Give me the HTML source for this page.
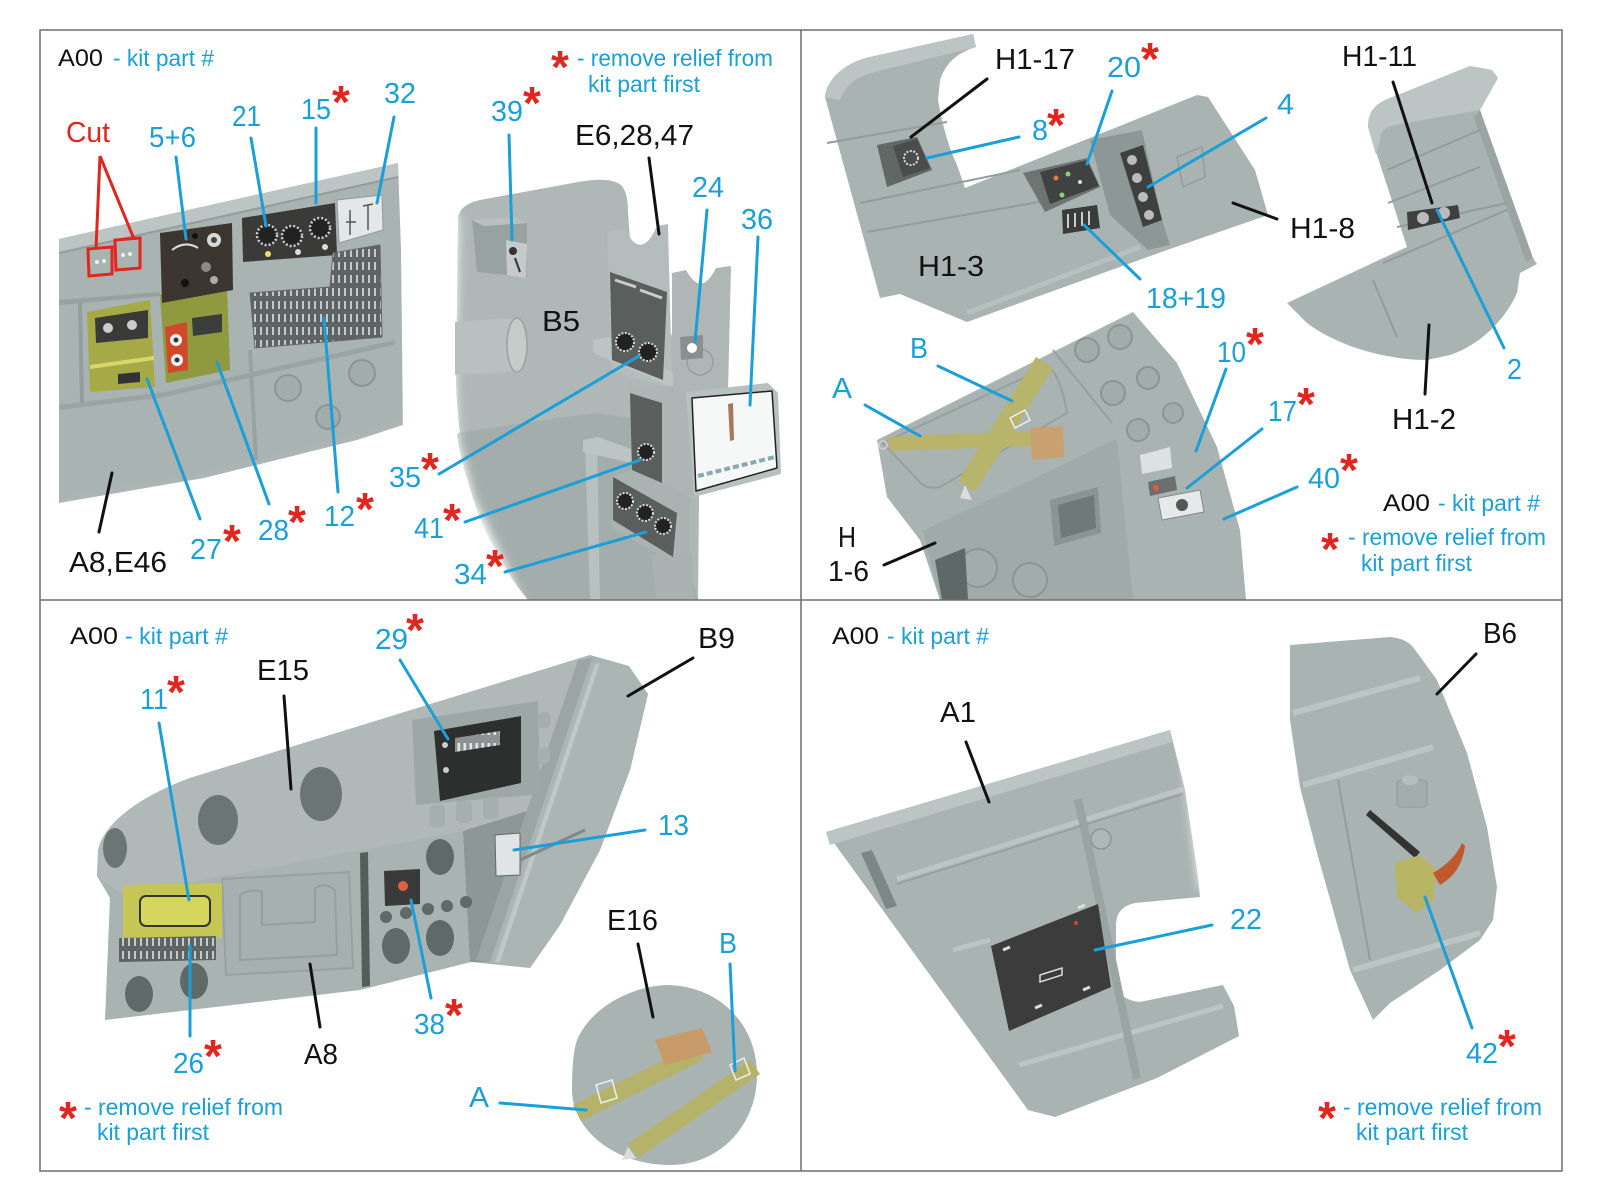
<!DOCTYPE html>
<html><head><meta charset="utf-8"><style>
html,body{margin:0;padding:0;background:#fff}
svg{display:block}
text{font-family:"Liberation Sans",Arial,sans-serif}
.t{font-size:29px}
.s{font-size:23px}
.h{font-size:24px}
.a{font-size:46px;font-weight:bold;fill:#e0261e}
.bl{fill:#1a9fd8}.bk{fill:#111}.rd{fill:#e0261e}
.lb{stroke:#1a9fd8;stroke-width:3;stroke-linecap:round;fill:none}
.lk{stroke:#111;stroke-width:3;stroke-linecap:round;fill:none}
.lr{stroke:#e0261e;stroke-width:3;fill:none}
.g{fill:#a9b3b1}
.gr{stroke:#929c9a;stroke-width:2;fill:none}
.hole{fill:#a2acaa;stroke:#8b9593;stroke-width:2}
.dh{fill:#5f6967}
</style></head><body>
<svg width="1600" height="1200" viewBox="0 0 1600 1200" xmlns="http://www.w3.org/2000/svg">
<defs>
<filter id="bl8" x="-30%" y="-30%" width="160%" height="160%"><feGaussianBlur stdDeviation="8"/></filter>
<filter id="bl5" x="-30%" y="-30%" width="160%" height="160%"><feGaussianBlur stdDeviation="5"/></filter>
<pattern id="sw" width="6" height="13" patternUnits="userSpaceOnUse"><rect width="6" height="13" fill="#5e6363"/><rect x="2" y="2" width="2" height="8" fill="#c4c9c9"/></pattern>
<pattern id="sw2" width="6" height="20" patternUnits="userSpaceOnUse"><rect width="6" height="20" fill="#8d9191"/><rect x="1.5" y="3" width="2.6" height="12" fill="#e2e5e5"/></pattern>
</defs>
<rect width="1600" height="1200" fill="#fff"/>

<!-- ============ PANEL 1 ============ -->
<path class="g" d="M59,239 L398,163 L401,250 L403,425 L357,440 L204,478 L59,503 Z"/>
<path d="M59,239 L398,163 L398,176 L59,252 Z" fill="#bcc5c4"/>
<line x1="59" y1="253" x2="398" y2="177" stroke="#939d9b" stroke-width="2"/>
<path d="M59,300 L160,292 L160,296 L59,305 Z" fill="#97a19f"/>
<path d="M78,303 L82,303 L84,403 L80,403 Z" fill="#939d9b"/>
<path d="M59,405 L165,392 L253,372 L395,340 L395,345 L253,377 L165,397 L59,410 Z" fill="#9aa4a2"/>
<path d="M248,350 L252,350 L258,460 L254,460 Z" fill="#98a2a0"/>
<circle class="hole" cx="288" cy="388" r="13"/>
<circle class="hole" cx="362" cy="373" r="13"/>
<circle class="hole" cx="328" cy="417" r="12"/>
<path d="M88,249 L112,247 L112,274 L89,276 Z" fill="#b9c1c0" class="lr"/>
<path d="M115,240 L140,238 L140,268 L116,270 Z" fill="#b9c1c0" class="lr"/>
<circle cx="97" cy="262" r="2" fill="#eee"/><circle cx="104" cy="261" r="2" fill="#eee"/>
<circle cx="123" cy="255" r="2" fill="#eee"/><circle cx="130" cy="254" r="2" fill="#eee"/>
<path d="M160,295 L227,288 L230,370 L166,383 Z" fill="#8e9a3d"/>
<path d="M165,327 L187,322 L188,370 L168,373 Z" fill="#d2482a"/>
<circle cx="176" cy="340" r="6" fill="#f2f2f2"/><circle cx="176" cy="340" r="2.5" fill="#333"/>
<circle cx="177" cy="360" r="6" fill="#f2f2f2"/><circle cx="177" cy="360" r="2.5" fill="#333"/>
<path d="M192,318 L222,314 L222,332 L193,336 Z" fill="#3b3d3a"/>
<path d="M87,312 L150,300 L155,387 L90,392 Z" fill="#a5aa46"/>
<path d="M95,318 L148,310 L148,338 L96,343 Z" fill="#3a3a38"/>
<circle cx="108" cy="328" r="5" fill="#ccc"/><circle cx="132" cy="325" r="5" fill="#ccc"/>
<path d="M90,365 L154,356 L154,360 L90,369 Z" fill="#d9d76a"/>
<path d="M118,374 L140,372 L140,382 L118,384 Z" fill="#333"/>
<path d="M160,233 L232,223 L233,290 L162,303 Z" fill="#3b3630"/>
<path d="M172,250 Q185,240 198,248" stroke="#ddd" stroke-width="2" fill="none"/>
<circle cx="214" cy="240" r="7" fill="#d8d8d8"/><circle cx="214" cy="240" r="3" fill="#444"/>
<circle cx="206" cy="267" r="5" fill="#8a8a8a"/><circle cx="185" cy="283" r="4" fill="#111"/>
<circle cx="214" cy="280" r="4" fill="#aaa"/><circle cx="195" cy="236" r="3" fill="#111"/>
<path d="M242,218 L335,203 L337,255 L243,262 Z" fill="#3a3a38"/>
<circle cx="267" cy="235" r="10" fill="#222" stroke="#cfcfcf" stroke-width="2.5" stroke-dasharray="2 2"/>
<circle cx="292" cy="236" r="10" fill="#222" stroke="#cfcfcf" stroke-width="2.5" stroke-dasharray="2 2"/>
<circle cx="320" cy="228" r="10" fill="#222" stroke="#cfcfcf" stroke-width="2.5" stroke-dasharray="2 2"/>
<circle cx="268" cy="254" r="3" fill="#e8e070"/><circle cx="298" cy="252" r="3" fill="#ddd"/><circle cx="325" cy="247" r="3" fill="#ddd"/>
<path d="M337,200 L382,195 L383,230 L339,243 Z" fill="#e3e7e8" stroke="#999" stroke-width="1"/>
<path d="M350,210 L350,235 M346,222 L356,222 M368,205 L368,230 M363,206 L373,204" stroke="#555" stroke-width="1.5"/>
<path d="M250,293 L330,287 L333,253 L380,245 L382,337 L255,348 Z" fill="url(#sw)" stroke="#666" stroke-width="1"/>
<path d="M30,528 L59,514 L204,490 L357,452 L412,434 L435,434 L435,625 L30,625 Z" fill="#fff" filter="url(#bl8)"/>
<path d="M408,150 L428,150 L428,445 L408,445 Z" fill="#fff" filter="url(#bl5)"/>

<path d="M458,222 C457,210 466,203 480,200 L578,182 Q612,176 622,186 Q628,194 628,212 L630,240 L700,400 L698,600 L528,600 C505,572 484,535 472,495 C462,460 457,420 456,380 Z" fill="#afb8b7"/>
<path d="M457,433 L593,413 L650,420 L698,600 L528,600 C505,572 484,535 472,495 C462,465 458,445 457,433 Z" fill="#a3adab"/>
<path d="M440,200 L458,218 L455,380 L458,440 L474,500 L508,570 L526,612 L430,612 Z" fill="#fff" filter="url(#bl5)"/>
<path d="M455,322 L515,318 Q530,345 515,372 L455,375 Z" fill="#b8c1c0"/>
<ellipse cx="517" cy="345" rx="10" ry="27" fill="#c4ccca" stroke="#98a2a0" stroke-width="1.5"/>
<path d="M472,220 L515,217 L527,223 L527,277 L477,272 Z" fill="#98a2a0"/>
<path d="M472,220 L515,217 L527,223 L484,226 Z" fill="#b8c1c0"/>
<path d="M506,240 L527,244 L526,278 L507,275 Z" fill="#c6caca"/>
<circle cx="513" cy="251" r="4" fill="#333"/><path d="M515,258 L520,272" stroke="#333" stroke-width="2"/>
<path d="M672,273 L686,270 Q701,298 716,268 L731,266 L728,392 L672,392 Z" fill="#aeb7b6"/>
<circle cx="700" cy="362" r="13" fill="none" stroke="#95a09e" stroke-width="1.5"/>
<path d="M607,232 L625,229 Q641,262 657,226 L668,224 L672,388 L612,372 Z" fill="#b4bdbc"/>
<path d="M593,340 L610,337 L673,373 L673,388 L593,353 Z" fill="#bdc5c4"/>
<path d="M630,386 L672,386 L692,395 L695,495 L650,500 L632,478 Z" fill="#adb6b5"/>
<path d="M585,442 L597,440 L600,600 L590,600 Z" fill="#b8c1c0"/>
<path d="M583,440 L598,437 L640,452 L640,465 L583,452 Z" fill="#bdc5c4"/>
<path d="M612,476 L640,468 L690,497 L690,560 L672,562 L612,528 Z" fill="#aab3b2"/>
<path d="M652,555 L692,553 L694,600 L656,600 Z" fill="#a9b2b1"/>
<path d="M610,272 L667,292 L663,380 L612,360 Z" fill="#5a5e5c"/>
<path d="M615,280 L636,287 M640,290 L662,298" stroke="#ccc" stroke-width="3"/>
<circle cx="625" cy="342" r="9" fill="#222" stroke="#ddd" stroke-width="2" stroke-dasharray="2 1.5"/>
<circle cx="648" cy="352" r="9" fill="#222" stroke="#ddd" stroke-width="2" stroke-dasharray="2 1.5"/>
<path d="M630,393 L662,403 L662,483 L632,470 Z" fill="#5a5e5c"/>
<circle cx="646" cy="452" r="8" fill="#222" stroke="#ddd" stroke-width="2" stroke-dasharray="2 1.5"/>
<path d="M613,477 L677,513 L673,557 L613,520 Z" fill="#5a5e5c"/>
<circle cx="625" cy="501" r="8" fill="#222" stroke="#ddd" stroke-width="2" stroke-dasharray="2 1.5"/>
<circle cx="645" cy="513" r="8" fill="#222" stroke="#ddd" stroke-width="2" stroke-dasharray="2 1.5"/>
<circle cx="663" cy="526" r="8" fill="#222" stroke="#ddd" stroke-width="2" stroke-dasharray="2 1.5"/>
<path d="M680,337 L703,335 L703,358 L681,360 Z" fill="#8a9090"/>
<circle cx="692" cy="348" r="5" fill="#fff"/>
<path d="M686,392 L768,383 L778,393 L781,474 L694,497 Z" fill="#b8c1c0"/>
<path d="M692,398 L772,391 L777,468 L696,491 Z" fill="#f6f8f8" stroke="#222" stroke-width="1.5" stroke-linejoin="round"/>
<path d="M728,404 L733,403 L734,440 L730,441 Z" fill="#a6785a"/>
<path d="M698,476 L775,457" stroke="#8aa" stroke-width="4" stroke-dasharray="6 3"/>

<!-- ============ PANEL 2 ============ -->
<path class="g" d="M825,97 C826,80 845,62 870,57 L973,34 L976,47 Q948,55 940,80 L938,100 Q945,140 957,165 L965,188 L1197,95 L1208,97 L1255,170 L1268,215 L1167,250 L967,322 L900,294 L880,298 Z"/>
<path d="M825,97 C826,80 845,62 870,57 L973,34 L976,47 L875,72 C857,76 845,86 840,100 Z" fill="#bdc5c4"/>
<path d="M827,143 L947,122 M860,203 L1020,170 M867,232 L1062,198" class="gr"/>
<path d="M967,313 L1140,247" stroke="#b7c0bf" stroke-width="5"/>
<path d="M1177,157 L1202,147 L1205,177 L1183,187 Z" fill="none" stroke="#939d9b" stroke-width="1.5"/>
<path d="M877,145 L917,137 L932,170 L887,187 Z" fill="#616765"/>
<path d="M893,146 L917,139 L930,168 L903,177 Z" fill="#4a4d4c"/>
<circle cx="911" cy="158" r="7" fill="none" stroke="#ddd" stroke-width="2" stroke-dasharray="2 1.5"/>
<path d="M1023,173 L1087,158 L1100,187 L1045,212 Z" fill="#6e7472"/>
<path d="M1040,172 L1087,160 L1099,186 L1050,204 Z" fill="#3f4240"/>
<circle cx="1056" cy="178" r="2.5" fill="#e87a4a"/><circle cx="1068" cy="174" r="2.5" fill="#8ad07a"/><circle cx="1062" cy="195" r="2.5" fill="#8ad07a"/><circle cx="1080" cy="182" r="2" fill="#ddd"/>
<path d="M1062,210 L1097,205 L1100,228 L1063,234 Z" fill="#3a3c3b"/>
<path d="M1068,214 L1068,228 M1075,213 L1075,227 M1082,212 L1082,226 M1089,211 L1089,225" stroke="#ccc" stroke-width="2"/>
<path d="M1090,140 L1142,130 L1162,220 L1170,245 L1148,250 L1110,215 Z" fill="#8d9795"/>
<path d="M1120,153 L1143,145 L1162,220 L1143,227 Z" fill="#3e403f"/>
<circle cx="1132" cy="160" r="5" fill="#bbb"/><circle cx="1137" cy="178" r="5" fill="#bbb"/><circle cx="1143" cy="197" r="5" fill="#bbb"/><circle cx="1149" cy="215" r="5" fill="#bbb"/>
<path d="M860,305 L900,308 L967,336 L1170,264 L1282,226 L1290,165 L1310,165 L1310,312 L1135,312 L1040,350 L860,350 Z" fill="#fff" filter="url(#bl5)"/>

<path class="g" d="M1368,127 C1368,112 1375,105 1385,100 L1470,66 L1492,70 L1498,78 L1480,110 L1533,258 L1537,264 L1520,273 L1517,293 C1505,320 1480,345 1450,355 L1427,360 C1390,360 1340,348 1307,323 L1287,303 L1407,247 Z"/>
<path d="M1368,127 C1368,112 1375,105 1385,100 L1470,66 L1492,70 L1498,78 L1480,110 L1395,125 Q1380,128 1380,140 L1376,155 Z" fill="#bdc5c4"/>
<path d="M1480,110 L1533,258 L1526,262 L1474,118 Z" fill="#9aa4a2"/>
<path d="M1387,170 L1480,130 M1388,203 L1480,167 M1397,227 L1507,203 M1383,263 L1507,210 M1373,280 L1397,337" class="gr"/>
<path d="M1407,212 L1458,205 L1460,218 L1408,230 Z" fill="#3e403f"/>
<circle cx="1423" cy="218" r="6" fill="#bbb"/><circle cx="1444" cy="213" r="6" fill="#bbb"/>
<path d="M1270,300 L1300,330 L1350,358 L1400,372 L1450,368 L1480,360 L1480,395 L1260,395 Z" fill="#fff" filter="url(#bl5)"/>

<path class="g" d="M877,440 L1133,312 L1177,363 L1217,447 L1240,530 L1246,600 L940,600 L920,540 L887,497 Z"/>
<path d="M923,531 L1117,439 L1133,600 L940,600 Z" fill="#a0aaa8"/>
<path d="M1053,350 L1112,423" stroke="#96a09e" stroke-width="2"/>
<path d="M883,443 L1047,367 Q1060,372 1067,413 L940,487 Q925,490 918,480 Z" fill="none" stroke="#96a09e" stroke-width="2"/>
<circle class="hole" cx="1087" cy="350" r="12"/><circle class="hole" cx="1120" cy="337" r="12"/>
<circle class="hole" cx="1113" cy="393" r="12"/><circle class="hole" cx="1148" cy="378" r="11"/>
<circle class="hole" cx="1138" cy="430" r="11"/><circle class="hole" cx="1173" cy="413" r="10"/>
<path d="M1050,500 L1098,487 L1101,533 L1054,546 Z" fill="#8a9492"/>
<path d="M1058,505 L1094,495 L1096,528 L1061,538 Z" fill="#6f7977"/>
<circle class="hole" cx="978" cy="568" r="19"/><circle class="hole" cx="1030" cy="580" r="17"/>
<path d="M935,560 L965,548 L968,600 L942,600 Z" fill="#5e6866"/>
<path d="M888,437 L1030,431 L1032,446 L890,451 Z" fill="#b9b46a"/>
<path d="M1030,428 L1063,426 L1064,457 L1032,460 Z" fill="#c9a070"/>
<path d="M1053,368 L1036,357 L958,481 L975,492 Z" fill="#b7b56b"/>
<path d="M1010,418 L1025,410 L1030,420 L1015,428 Z" fill="none" stroke="#eee" stroke-width="1.5"/>
<path d="M965,485 L972,500 L960,498 Z" fill="#ddd"/>
<circle cx="883" cy="445" r="4" fill="none" stroke="#ccc" stroke-width="2"/>
<path d="M1140,455 L1170,447 L1172,468 L1142,474 Z" fill="#dde1e1"/>
<path d="M1148,482 L1175,476 L1177,490 L1150,496 Z" fill="#6e6e6e"/><circle cx="1156" cy="488" r="3" fill="#e05a40"/>
<path d="M1158,498 L1200,490 L1204,512 L1162,520 Z" fill="#e6e9e9" stroke="#888" stroke-width="1"/>
<circle cx="1182" cy="505" r="6" fill="#555"/>

<!-- ============ PANEL 3 ============ -->
<path class="g" d="M98,852 C100,830 130,800 190,778 L590,655 L629,666 L648,694 L630,770 L600,850 L560,925 L530,968 L471,962 L360,990 L105,1020 L110,898 L97,876 Z"/>
<path d="M98,852 C100,830 130,800 190,778 L590,655 L586,664 L563,800 L463,831 L123,895 L97,876 Z" fill="#b0b9b8"/>
<path d="M463,831 L563,800 L520,900 L490,962 L470,962 Z" fill="#8d9795"/>
<path d="M586,661 L629,668 L648,694 L630,770 L600,850 L560,925 L530,968 L490,962 Z" fill="#abb5b3"/>
<path d="M578,660 L592,658 L490,962 L476,960 Z" fill="#9ba5a3"/>
<path d="M595,664 L600,663 L500,962 L495,962 Z" fill="#c0c8c7"/>
<ellipse cx="218" cy="820" rx="20" ry="25" fill="#6b7573"/>
<ellipse cx="321" cy="794" rx="21" ry="27" fill="#6b7573"/>
<ellipse cx="115" cy="848" rx="12" ry="20" fill="#6b7573"/>
<path d="M412,720 L538,701 L540,794 L416,805 Z" fill="#9da7a5"/>
<path d="M434,731 L521,716 L521,783 L440,801 Z" fill="#2d2f2e"/>
<path d="M455,738 L500,731 L500,745 L455,752 Z" fill="url(#sw2)"/>
<circle cx="445" cy="745" r="3" fill="#ccc"/><circle cx="446" cy="770" r="3" fill="#ccc"/>
<rect x="429" y="805" width="16" height="22" rx="5" fill="#a5afad"/>
<rect x="456" y="801" width="16" height="22" rx="5" fill="#a5afad"/>
<rect x="483" y="797" width="16" height="22" rx="5" fill="#a5afad"/>
<rect x="538" y="712" width="12" height="16" rx="4" fill="#a5afad"/>
<rect x="538" y="748" width="12" height="16" rx="4" fill="#a5afad"/>
<path d="M222,879 L349,872 L353,968 L226,975 Z" fill="#a6b0ae" stroke="#97a19f" stroke-width="2"/>
<path d="M240,895 Q250,888 262,892 L262,925 L315,922 L315,888 Q325,882 335,890 L337,955 L240,960 Z" fill="none" stroke="#95a09e" stroke-width="2"/>
<path d="M360,853 L368,852 L370,986 L362,987 Z" fill="#555d5b"/>
<path d="M123,885 L222,883 L222,938 L123,942 Z" fill="#c5c653"/>
<rect x="140" y="896" width="70" height="30" rx="6" fill="#d4d65e" stroke="#333" stroke-width="2"/>
<path d="M119,938 L216,936 L216,960 L119,962 Z" fill="url(#sw)"/>
<path d="M384,871 L420,869 L420,904 L385,906 Z" fill="#3a3a3a"/>
<circle cx="403" cy="886" r="5" fill="#e06040"/>
<circle cx="386" cy="917" r="6" class="dh"/><circle cx="406" cy="913" r="6" class="dh"/><circle cx="428" cy="909" r="6" class="dh"/><circle cx="447" cy="906" r="6" class="dh"/><circle cx="466" cy="902" r="6" class="dh"/>
<ellipse cx="396" cy="946" rx="14" ry="18" class="dh"/><ellipse cx="440" cy="938" rx="14" ry="18" class="dh"/>
<ellipse cx="440" cy="857" rx="14" ry="18" class="dh"/>
<ellipse cx="139" cy="994" rx="14" ry="18" class="dh"/><ellipse cx="194" cy="981" rx="14" ry="18" class="dh"/>
<path d="M495,835 L520,833 L520,875 L496,876 Z" fill="#e0e4e4" stroke="#666" stroke-width="1"/>
<path d="M520,860 L585,830" stroke="#7f8987" stroke-width="3"/>
<path d="M650,660 L672,690 L652,780 L612,870 L572,942 L540,985 L520,995 L710,995 L710,660 Z" fill="#fff" filter="url(#bl5)"/>
<path d="M577,1040 C590,1010 625,988 665,985 C720,985 757,1025 757,1075 C757,1125 720,1165 670,1165 C615,1165 572,1130 572,1090 C572,1070 573,1052 577,1040 Z" class="g"/>
<path d="M573,1105 L696,1044 L703,1060 L581,1121 Z" fill="#b5b36a"/>
<path d="M655,1040 L702,1028 L712,1052 L665,1065 Z" fill="#c89a68"/>
<path d="M628,1144 L750,1060 L760,1074 L638,1158 Z" fill="#b5b36a"/>
<path d="M596,1085 L612,1080 L617,1098 L601,1103 Z" fill="none" stroke="#eee" stroke-width="1.5"/>
<path d="M730,1065 L744,1058 L750,1074 L736,1080 Z" fill="none" stroke="#eee" stroke-width="1.5"/>
<path d="M628,1147 L622,1160 L636,1158 Z" fill="#ddd"/>

<!-- ============ PANEL 4 ============ -->
<path class="g" d="M826,832 L1170,730 L1185,790 L1198,876 L1200,897 L1135,903 Q1116,907 1116,925 L1116,982 Q1118,1000 1140,1002 L1223,985 L1234,1006 L1239,1036 L1157,1078 L1055,1117 L1028,1110 Z"/>
<path d="M826,832 L1170,730 L1172,742 L830,845 Z" fill="#bcc5c4"/>
<path d="M897,879 L1183,789" stroke="#bcc5c4" stroke-width="5"/>
<path d="M897,884 L1183,794" stroke="#939d9b" stroke-width="1.5"/>
<path d="M953,950 L990,940" stroke="#bcc5c4" stroke-width="5"/>
<path d="M1019,1065 L1223,1006" stroke="#bcc5c4" stroke-width="5"/>
<path d="M861,853 L872,850 L897,906 L886,909 Z" fill="#7d8785"/>
<path d="M1074,800 L1082,798 L1141,1078 L1133,1080 Z" fill="#9aa4a2"/>
<circle cx="1101" cy="839" r="10" fill="#aeb8b6" stroke="#8b9593" stroke-width="1.5"/>
<path d="M991,946 L1098,904 L1111,987 L1009,1031 Z" fill="#3b3c3b"/>
<path d="M1003,950 L1010,947 M1078,908 L1085,905 M1035,1008 L1042,1005 M1083,990 L1090,987" stroke="#ddd" stroke-width="3"/>
<path d="M1040,975 L1062,968 L1062,975 L1040,982 Z" fill="none" stroke="#ddd" stroke-width="1.5"/>
<circle cx="1076" cy="923" r="2" fill="#e04030"/>
<path d="M1245,1000 L1255,1042 L1165,1090 L1058,1130 L1020,1124 L1020,1165 L1280,1165 L1280,1000 Z" fill="#fff" filter="url(#bl5)"/>
<path d="M1180,720 L1205,725 L1215,880 L1200,890 Z" fill="#fff" filter="url(#bl5)"/>

<path class="g" d="M1290,645 L1390,637 Q1405,638 1413,647 L1437,680 L1467,753 L1487,827 L1497,887 L1493,920 L1480,940 L1440,970 L1390,1003 L1373,1020 L1350,970 L1317,853 L1300,787 L1290,720 Z"/>
<path d="M1293,713 L1420,678" stroke="#bcc5c4" stroke-width="6"/>
<path d="M1303,785 L1433,747" stroke="#bcc5c4" stroke-width="6"/>
<path d="M1353,970 L1480,933" stroke="#bcc5c4" stroke-width="6"/>
<path d="M1338,780 L1370,960" stroke="#939d9b" stroke-width="2"/>
<rect x="1397" y="780" width="30" height="27" rx="4" fill="#a3adab" stroke="#8f9997" stroke-width="1"/>
<ellipse cx="1410" cy="780" rx="8" ry="5" fill="#b5bebd"/>
<path d="M1366,815 L1370,810 L1420,852 L1415,858 Z" fill="#333"/>
<path d="M1395,863 L1420,855 L1437,870 L1433,900 L1417,913 L1397,897 Z" fill="#b8b564"/>
<path d="M1433,873 Q1455,860 1462,843 L1465,846 Q1462,872 1440,885 Z" fill="#c0582c"/>
<path d="M1300,920 L1325,990 L1365,1025 L1395,1030 L1300,1045 L1280,1045 L1280,920 Z" fill="#fff" filter="url(#bl5)"/>

<!-- ============ LEADERS ============ -->
<g class="lb">
<line x1="176" y1="157" x2="186" y2="239"/>
<line x1="251" y1="138" x2="266" y2="226"/>
<line x1="316" y1="128" x2="316" y2="203"/>
<line x1="394" y1="117" x2="377" y2="203"/>
<line x1="509" y1="135" x2="512" y2="240"/>
<line x1="707" y1="210" x2="695" y2="342"/>
<line x1="758" y1="237" x2="750" y2="405"/>
<line x1="439" y1="474" x2="639" y2="356"/>
<line x1="465" y1="522" x2="640" y2="460"/>
<line x1="505" y1="572" x2="646" y2="532"/>
<line x1="200" y1="519" x2="147" y2="379"/>
<line x1="269" y1="504" x2="217" y2="362"/>
<line x1="338" y1="492" x2="324" y2="318"/>
<line x1="1019" y1="137" x2="927" y2="158"/>
<line x1="1112" y1="91" x2="1087" y2="164"/>
<line x1="1266" y1="118" x2="1148" y2="187"/>
<line x1="1140" y1="279" x2="1084" y2="225"/>
<line x1="1504" y1="348" x2="1437" y2="210"/>
<line x1="938" y1="366" x2="1012" y2="401"/>
<line x1="865" y1="405" x2="920" y2="436"/>
<line x1="1226" y1="369" x2="1196" y2="451"/>
<line x1="1262" y1="429" x2="1187" y2="488"/>
<line x1="1297" y1="487" x2="1224" y2="519"/>
<line x1="400" y1="660" x2="448" y2="739"/>
<line x1="159" y1="723" x2="189" y2="900"/>
<line x1="645" y1="830" x2="514" y2="850"/>
<line x1="190" y1="1036" x2="190" y2="946"/>
<line x1="431" y1="998" x2="411" y2="900"/>
<line x1="730" y1="964" x2="735" y2="1071"/>
<line x1="500" y1="1103" x2="586" y2="1110"/>
<line x1="1212" y1="925" x2="1095" y2="950"/>
<line x1="1472" y1="1028" x2="1425" y2="897"/>
</g>
<g class="lk">
<line x1="649" y1="158" x2="659" y2="234"/>
<line x1="99" y1="532" x2="112" y2="473"/>
<line x1="987" y1="79" x2="911" y2="137"/>
<line x1="1277" y1="219" x2="1233" y2="203"/>
<line x1="1393" y1="82" x2="1432" y2="203"/>
<line x1="1425" y1="394" x2="1429" y2="325"/>
<line x1="884" y1="565" x2="935" y2="543"/>
<line x1="693" y1="658" x2="628" y2="696"/>
<line x1="284" y1="696" x2="291" y2="789"/>
<line x1="320" y1="1027" x2="310" y2="964"/>
<line x1="638" y1="944" x2="653" y2="1017"/>
<line x1="966" y1="742" x2="989" y2="802"/>
<line x1="1476" y1="654" x2="1437" y2="694"/>
</g>
<g class="lr">
<line x1="100" y1="156" x2="96" y2="249"/>
<line x1="100" y1="156" x2="134" y2="239"/>
</g>

<!-- ============ TEXT ============ -->
<text x="58" y="66" class="h bk" textLength="45" lengthAdjust="spacingAndGlyphs">A00</text>
<text x="113" y="66" class="s bl" textLength="101" lengthAdjust="spacingAndGlyphs">- kit part #</text>
<text x="551" y="83" class="a">*</text>
<text x="577" y="66" class="s bl" textLength="196" lengthAdjust="spacingAndGlyphs">- remove relief from</text>
<text x="588" y="92" class="s bl" textLength="112" lengthAdjust="spacingAndGlyphs">kit part first</text>
<text x="66" y="142" class="t rd" textLength="44" lengthAdjust="spacingAndGlyphs">Cut</text>
<text x="149" y="147" class="t bl" textLength="47" lengthAdjust="spacingAndGlyphs">5+6</text>
<text x="232" y="126" class="t bl" textLength="29" lengthAdjust="spacingAndGlyphs">21</text>
<text x="301" y="119" class="t bl" textLength="30" lengthAdjust="spacingAndGlyphs">15</text>
<text x="332" y="118" class="a">*</text>
<text x="384" y="103" class="t bl" textLength="32" lengthAdjust="spacingAndGlyphs">32</text>
<text x="491" y="121" class="t bl" textLength="32" lengthAdjust="spacingAndGlyphs">39</text>
<text x="523" y="119" class="a">*</text>
<text x="575" y="145" class="t bk" textLength="119" lengthAdjust="spacingAndGlyphs">E6,28,47</text>
<text x="692" y="197" class="t bl" textLength="32" lengthAdjust="spacingAndGlyphs">24</text>
<text x="741" y="229" class="t bl" textLength="32" lengthAdjust="spacingAndGlyphs">36</text>
<text x="542" y="331" class="t bk" textLength="38" lengthAdjust="spacingAndGlyphs">B5</text>
<text x="389" y="487" class="t bl" textLength="32" lengthAdjust="spacingAndGlyphs">35</text>
<text x="421" y="485" class="a">*</text>
<text x="414" y="538" class="t bl" textLength="30" lengthAdjust="spacingAndGlyphs">41</text>
<text x="443" y="536" class="a">*</text>
<text x="454" y="584" class="t bl" textLength="33" lengthAdjust="spacingAndGlyphs">34</text>
<text x="486" y="582" class="a">*</text>
<text x="190" y="559" class="t bl" textLength="32" lengthAdjust="spacingAndGlyphs">27</text>
<text x="223" y="557" class="a">*</text>
<text x="258" y="540" class="t bl" textLength="31" lengthAdjust="spacingAndGlyphs">28</text>
<text x="288" y="538" class="a">*</text>
<text x="324" y="526" class="t bl" textLength="31" lengthAdjust="spacingAndGlyphs">12</text>
<text x="356" y="525" class="a">*</text>
<text x="69" y="572" class="t bk" textLength="98" lengthAdjust="spacingAndGlyphs">A8,E46</text>

<text x="995" y="69" class="t bk" textLength="80" lengthAdjust="spacingAndGlyphs">H1-17</text>
<text x="1107" y="77" class="t bl" textLength="34" lengthAdjust="spacingAndGlyphs">20</text>
<text x="1141" y="75" class="a">*</text>
<text x="1032" y="140" class="t bl" textLength="16" lengthAdjust="spacingAndGlyphs">8</text>
<text x="1047" y="141" class="a">*</text>
<text x="1342" y="66" class="t bk" textLength="75" lengthAdjust="spacingAndGlyphs">H1-11</text>
<text x="1277" y="114" class="t bl" textLength="17" lengthAdjust="spacingAndGlyphs">4</text>
<text x="1290" y="238" class="t bk" textLength="65" lengthAdjust="spacingAndGlyphs">H1-8</text>
<text x="918" y="276" class="t bk" textLength="66" lengthAdjust="spacingAndGlyphs">H1-3</text>
<text x="1146" y="308" class="t bl" textLength="80" lengthAdjust="spacingAndGlyphs">18+19</text>
<text x="910" y="358" class="t bl" textLength="18" lengthAdjust="spacingAndGlyphs">B</text>
<text x="832" y="398" class="t bl" textLength="20" lengthAdjust="spacingAndGlyphs">A</text>
<text x="1217" y="362" class="t bl" textLength="29" lengthAdjust="spacingAndGlyphs">10</text>
<text x="1246" y="360" class="a">*</text>
<text x="1268" y="421" class="t bl" textLength="29" lengthAdjust="spacingAndGlyphs">17</text>
<text x="1297" y="420" class="a">*</text>
<text x="1308" y="488" class="t bl" textLength="32" lengthAdjust="spacingAndGlyphs">40</text>
<text x="1340" y="486" class="a">*</text>
<text x="1507" y="379" class="t bl" textLength="15" lengthAdjust="spacingAndGlyphs">2</text>
<text x="1392" y="429" class="t bk" textLength="64" lengthAdjust="spacingAndGlyphs">H1-2</text>
<text x="1383" y="511" class="h bk" textLength="47" lengthAdjust="spacingAndGlyphs">A00</text>
<text x="1438" y="511" class="s bl" textLength="102" lengthAdjust="spacingAndGlyphs">- kit part #</text>
<text x="1321" y="565" class="a">*</text>
<text x="1348" y="545" class="s bl" textLength="198" lengthAdjust="spacingAndGlyphs">- remove relief from</text>
<text x="1361" y="571" class="s bl" textLength="111" lengthAdjust="spacingAndGlyphs">kit part first</text>
<text x="838" y="547" class="t bk" textLength="18" lengthAdjust="spacingAndGlyphs">H</text>
<text x="828" y="581" class="t bk" textLength="41" lengthAdjust="spacingAndGlyphs">1-6</text>

<text x="70" y="644" class="h bk" textLength="48" lengthAdjust="spacingAndGlyphs">A00</text>
<text x="125" y="644" class="s bl" textLength="103" lengthAdjust="spacingAndGlyphs">- kit part #</text>
<text x="375" y="649" class="t bl" textLength="33" lengthAdjust="spacingAndGlyphs">29</text>
<text x="406" y="646" class="a">*</text>
<text x="698" y="648" class="t bk" textLength="37" lengthAdjust="spacingAndGlyphs">B9</text>
<text x="257" y="680" class="t bk" textLength="52" lengthAdjust="spacingAndGlyphs">E15</text>
<text x="140" y="709" class="t bl" textLength="28" lengthAdjust="spacingAndGlyphs">11</text>
<text x="167" y="708" class="a">*</text>
<text x="658" y="835" class="t bl" textLength="31" lengthAdjust="spacingAndGlyphs">13</text>
<text x="607" y="930" class="t bk" textLength="51" lengthAdjust="spacingAndGlyphs">E16</text>
<text x="719" y="953" class="t bl" textLength="18" lengthAdjust="spacingAndGlyphs">B</text>
<text x="469" y="1107" class="t bl" textLength="20" lengthAdjust="spacingAndGlyphs">A</text>
<text x="414" y="1034" class="t bl" textLength="31" lengthAdjust="spacingAndGlyphs">38</text>
<text x="445" y="1031" class="a">*</text>
<text x="173" y="1073" class="t bl" textLength="31" lengthAdjust="spacingAndGlyphs">26</text>
<text x="204" y="1072" class="a">*</text>
<text x="304" y="1064" class="t bk" textLength="34" lengthAdjust="spacingAndGlyphs">A8</text>
<text x="59" y="1134" class="a">*</text>
<text x="84" y="1115" class="s bl" textLength="199" lengthAdjust="spacingAndGlyphs">- remove relief from</text>
<text x="97" y="1140" class="s bl" textLength="112" lengthAdjust="spacingAndGlyphs">kit part first</text>

<text x="832" y="644" class="h bk" textLength="47" lengthAdjust="spacingAndGlyphs">A00</text>
<text x="887" y="644" class="s bl" textLength="102" lengthAdjust="spacingAndGlyphs">- kit part #</text>
<text x="1483" y="643" class="t bk" textLength="34" lengthAdjust="spacingAndGlyphs">B6</text>
<text x="940" y="722" class="t bk" textLength="36" lengthAdjust="spacingAndGlyphs">A1</text>
<text x="1230" y="929" class="t bl" textLength="32" lengthAdjust="spacingAndGlyphs">22</text>
<text x="1466" y="1063" class="t bl" textLength="32" lengthAdjust="spacingAndGlyphs">42</text>
<text x="1498" y="1062" class="a">*</text>
<text x="1318" y="1134" class="a">*</text>
<text x="1343" y="1115" class="s bl" textLength="199" lengthAdjust="spacingAndGlyphs">- remove relief from</text>
<text x="1356" y="1140" class="s bl" textLength="112" lengthAdjust="spacingAndGlyphs">kit part first</text>

<rect x="40" y="30" width="1522" height="1141" fill="none" stroke="#6e6e6e" stroke-width="1.5"/>
<line x1="801" y1="30" x2="801" y2="1171" stroke="#6e6e6e" stroke-width="1.5"/>
<line x1="40" y1="600" x2="1562" y2="600" stroke="#6e6e6e" stroke-width="1.5"/>
</svg>
</body></html>
